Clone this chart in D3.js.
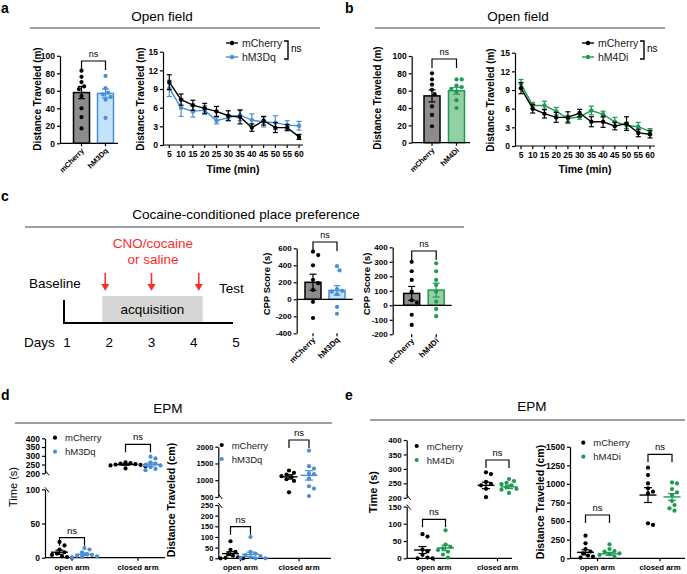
<!DOCTYPE html>
<html><head><meta charset="utf-8">
<script src="https://cdn.jsdelivr.net/npm/d3@7"></script>
<style>body{margin:0;background:#fff}svg{display:block;font-family:"Liberation Sans",Arial,sans-serif}</style>
</head><body>
<script>
// ---------------- DATA ----------------
const groupsM3 = ["mCherry", "hM3Dq"];
const groupsM4 = ["mCherry", "hM4Di"];
const timeMin = [5, 10, 15, 20, 25, 30, 35, 40, 45, 50, 55, 60];
const ofTicksBar = [0, 20, 40, 60, 80, 100];
const ofTicksLine = [0, 3, 6, 9, 12, 15];

// panel a
const ofA_means = [58, 57];
const ofA_sems = [7, 5];
const ofA_mch = [83, 76, 70, 65, 62, 54, 40, 30, 17];
const ofA_hm3 = [77, 63, 58, 56, 53, 50, 29];
const lineA_mch = [10.1, 7.3, 6.4, 5.9, 5.4, 4.7, 4.5, 2.8, 3.9, 2.8, 2.8, 1.3];
const lineA_mch_err = [1.2, 0.9, 0.8, 0.8, 0.8, 0.8, 1.1, 0.6, 0.7, 0.8, 0.5, 0.4];
const lineA_hm3 = [9.1, 6.0, 5.4, 5.6, 3.9, 4.4, 4.8, 4.0, 3.7, 3.6, 3.2, 3.1];
const lineA_hm3_err = [1.3, 1.4, 0.9, 0.7, 0.5, 0.4, 0.9, 1.0, 0.8, 1.1, 0.7, 0.7];

// panel b
const ofB_means = [54, 60];
const ofB_sems = [7, 4];
const ofB_mch = [80, 73, 67, 61, 56, 42, 32, 19];
const ofB_hm4 = [73, 73, 66, 64, 62, 59, 49, 40];
const lineB_mch = [9.3, 6.0, 5.2, 4.6, 4.6, 5.3, 3.9, 3.9, 3.2, 3.6, 2.1, 1.9];
const lineB_mch_err = [0.9, 0.7, 0.7, 0.8, 0.9, 0.6, 0.8, 0.9, 0.6, 1.1, 0.6, 0.6];
const lineB_hm4 = [10.0, 6.5, 6.5, 5.6, 4.4, 4.7, 5.7, 5.1, 3.9, 3.3, 3.1, 2.3];
const lineB_hm4_err = [0.7, 0.5, 0.7, 0.6, 0.5, 0.4, 0.7, 0.5, 0.7, 0.5, 0.7, 0.5];

// panel c
const days = [1, 2, 3, 4, 5];
const cppTicksA = [-400, -200, 0, 200, 400, 600];
const cppA_means = [200, 105];
const cppA_sems = [95, 55];
const cppA_mch = [560, 520, 400, 230, 190, 110, -30, -220];
const cppA_hm3 = [390, 340, 120, 100, 90, 60, -90, -170];
const cppTicksB = [-200, -100, 0, 100, 200, 300, 400];
const cppB_means = [82, 105];
const cppB_sems = [48, 48];
const cppB_mch = [300, 235, 175, 95, 35, 20, -65, -135];
const cppB_hm4 = [290, 235, 175, 140, 95, 25, -25, -75];

// panel d / e
const armCats = ["open arm", "closed arm"];
const dTimeTicksLow = [0, 50, 100];
const dTimeTicksHigh = [200, 250, 300, 350, 400];
const dTime_open_mch = [23, 18, 12, 8, 6, 4, 2, 1, 0];
const dTime_open_hm3 = [14, 12, 8, 5, 4, 3, 2, 1, 0];
const dTime_closed_mch = [262, 258, 255, 252, 250, 248, 245, 240, 228];
const dTime_closed_hm3 = [295, 285, 262, 255, 248, 245, 235, 225, 218];
const dTime_means = [[8, 5], [250, 250]];
const dTime_sems = [[3, 2], [4, 9]];

const dDistTicksLow = [0, 50, 100, 150, 200, 250];
const dDistTicksHigh = [500, 1000, 1500, 2000];
const dDist_open_mch = [80, 40, 30, 20, 12, 5, 2, 0, 0];
const dDist_open_hm3 = [100, 30, 22, 15, 10, 5, 2, 0, 0];
const dDist_closed_mch = [1290, 1220, 1170, 1120, 1090, 1030, 980, 640];
const dDist_closed_hm3 = [1880, 1420, 1350, 1200, 1180, 1050, 820, 750, 530];
const dDist_means = [[22, 18], [1100, 1145]];
const dDist_sems = [[9, 11], [65, 140]];

const eTimeTicksLow = [0, 50, 100, 150];
const eTimeTicksHigh = [200, 250, 300, 350, 400];
const eTime_open_mch = [70, 63, 25, 20, 10, 2, 0, 0];
const eTime_open_hm4 = [81, 40, 33, 29, 24, 19, 11, 2];
const eTime_closed_mch = [288, 282, 255, 248, 243, 231, 202];
const eTime_closed_hm4 = [265, 258, 252, 247, 243, 236, 231, 228, 217];
const eTime_means = [[24, 30], [243, 238]];
const eTime_sems = [[10, 8], [11, 6]];

const eDistTicks = [0, 250, 500, 750, 1000, 1250, 1500];
const eDist_open_mch = [304, 201, 125, 90, 67, 36, 22, 9];
const eDist_open_hm4 = [188, 125, 98, 90, 67, 54, 45, 22];
const eDist_closed_mch = [1218, 1119, 1007, 940, 895, 873, 470, 448];
const eDist_closed_hm4 = [1020, 1007, 931, 886, 850, 770, 716, 672, 640];
const eDist_means = [[80, 60], [850, 825]];
const eDist_sems = [[35, 20], [100, 45]];

// ---------------- STYLE ----------------
const COL = {
  black: "#000", blue: "#4a8fd6", blueFill: "#c4e2f8", green: "#1e9a52",
  greenFill: "#93cfa5", grayFill: "#8c8c8c", red: "#ff2a2a", header: "#808080"
};
const W = 687, H = 574;
const svg = d3.select("body").append("svg").attr("width", W).attr("height", H);
const fmt = d => String(d);

function txt(x, y, s, o = {}) {
  return svg.append("text").attr("x", x).attr("y", y).text(s)
    .attr("font-size", o.size || 10).attr("font-weight", o.bold ? "bold" : "normal")
    .attr("text-anchor", o.anchor || "start").attr("fill", o.fill || "#000");
}
function vtxt(x, cy, s, o = {}) {
  return svg.append("text").attr("transform", `translate(${x},${cy}) rotate(-90)`)
    .attr("text-anchor", "middle").attr("dy", "0.35em").text(s)
    .attr("font-size", o.size || 10).attr("font-weight", o.bold === false ? "normal" : "bold");
}
function header(x1, x2, y, tx, ty, s) {
  svg.append("line").attr("x1", x1).attr("x2", x2).attr("y1", y).attr("y2", y)
    .attr("stroke", COL.header).attr("stroke-width", 1.5);
  txt(tx, ty, s, { size: 13.5, anchor: "middle" });
}
function styleAxis(g, fs) {
  g.selectAll("path,line").attr("stroke", "#000").attr("stroke-width", 1.2);
  g.selectAll("text").attr("font-size", fs || 8).attr("font-weight", "bold")
    .attr("font-family", '"Liberation Sans",Arial,sans-serif').attr("fill", "#000");
}
function swarm(vals, yf, r, step) {
  const pts = vals.map(v => ({ v, py: yf(v) })).sort((a, b) => a.py - b.py);
  const placed = [];
  pts.forEach(p => {
    for (let k = 0; k < 30; k++) {
      const dx = k === 0 ? 0 : (k % 2 ? 1 : -1) * Math.ceil(k / 2) * step;
      if (placed.every(q => (q.dx - dx) ** 2 + (q.py - p.py) ** 2 >= (2 * r + 0.2) ** 2)) {
        p.dx = dx; placed.push(p); break;
      }
    }
  });
  return placed;
}
function errBar(g, x, yLo, yHi, yMid, cap, color, meanW) {
  g.append("line").attr("x1", x).attr("x2", x).attr("y1", yLo).attr("y2", yHi).attr("stroke", color).attr("stroke-width", 1.2);
  [yLo, yHi].forEach(yy => g.append("line").attr("x1", x - cap / 2).attr("x2", x + cap / 2).attr("y1", yy).attr("y2", yy).attr("stroke", color).attr("stroke-width", 1.2));
  if (meanW) g.append("line").attr("x1", x - meanW / 2).attr("x2", x + meanW / 2).attr("y1", yMid).attr("y2", yMid).attr("stroke", color).attr("stroke-width", 1.4);
}
function bracket(x1, x2, y, drop, label, fs) {
  svg.append("path").attr("d", `M${x1},${y + drop}V${y}H${x2}V${y + drop}`)
    .attr("fill", "none").attr("stroke", "#000").attr("stroke-width", 1.2);
  txt((x1 + x2) / 2, y - 4, label, { size: fs || 9, anchor: "middle" });
}

// ---------------- BAR + DOT CHART ----------------
function barChart(o) {
  const g = svg.append("g");
  const y = d3.scaleLinear().domain(o.domain).range([o.yBottom, o.yTop]);
  const x = d3.scalePoint().domain(o.cats).range(o.catRange);
  const ax = g.append("g").attr("transform", `translate(${o.axisX},0)`)
    .call(d3.axisLeft(y).tickValues(o.ticks).tickFormat(fmt).tickSize(3).tickSizeOuter(0).tickPadding(2));
  styleAxis(ax, o.tickFs);
  o.cats.forEach((c, i) => {
    const cx = x(c), m = o.means[i];
    const y0 = y(0);
    g.append("rect").attr("x", cx - o.barW / 2).attr("width", o.barW)
      .attr("y", Math.min(y(m), y0)).attr("height", Math.abs(y0 - y(m)))
      .attr("fill", o.fills[i]).attr("stroke", o.strokes[i]).attr("stroke-width", 1.5);
  });
  g.append("line").attr("x1", o.axisX).attr("x2", o.xEnd).attr("y1", y(0)).attr("y2", y(0)).attr("stroke", "#000").attr("stroke-width", 1.2);
  o.cats.forEach((c, i) => {
    const cx = x(c);
    g.append("line").attr("x1", cx).attr("x2", cx).attr("y1", o.yBottom).attr("y2", o.yBottom + 3).attr("stroke", "#000").attr("stroke-width", 1.2);
    const sw = swarm(o.points[i], y, 2.1, 2.6);
    sw.forEach(p => g.append("circle").attr("cx", cx + p.dx).attr("cy", p.py).attr("r", 2.1).attr("fill", o.dotColors[i]));
    errBar(g, cx, y(o.means[i] - o.sems[i]), y(o.means[i] + o.sems[i]), y(o.means[i]), 7, o.strokes[i], 0);
    g.append("text").attr("transform", `translate(${cx + 3},${o.yBottom + o.labelDy}) rotate(-45)`)
      .attr("text-anchor", "end").text(c).attr("font-size", o.labelFs).attr("font-weight", "bold");
  });
  if (o.ytitle) vtxt(o.ytitle[0], o.ytitle[1], o.ytitle[2], { size: o.ytitle[3] });
  bracket(x(o.cats[0]), x(o.cats[1]), o.nsY, o.nsDrop, "ns", 9);
}

// ---------------- LINE CHART ----------------
function lineChart(o) {
  const g = svg.append("g");
  const x = d3.scaleLinear().domain([timeMin[0], timeMin[timeMin.length - 1]]).range(o.xRange);
  const y = d3.scaleLinear().domain([0, 15]).range([o.yBottom, o.yTop]);
  const ay = g.append("g").attr("transform", `translate(${o.axisX},0)`)
    .call(d3.axisLeft(y).tickValues(ofTicksLine).tickFormat(fmt).tickSize(3).tickSizeOuter(0).tickPadding(2));
  styleAxis(ay, 8.5);
  g.append("line").attr("x1", o.axisX).attr("x2", o.xEnd).attr("y1", o.yBottom).attr("y2", o.yBottom).attr("stroke", "#000").attr("stroke-width", 1.2);
  timeMin.forEach(t => {
    g.append("line").attr("x1", x(t)).attr("x2", x(t)).attr("y1", o.yBottom).attr("y2", o.yBottom + 3).attr("stroke", "#000").attr("stroke-width", 1.2);
    g.append("text").attr("x", x(t)).attr("y", o.yBottom + 12).attr("text-anchor", "middle").text(t).attr("font-size", 8.5).attr("font-weight", "bold");
  });
  o.series.forEach(s => {
    const line = d3.line().x((d, i) => x(timeMin[i])).y(d => y(d));
    s.vals.forEach((v, i) => errBar(g, x(timeMin[i]), y(v - s.err[i]), y(v + s.err[i]), 0, 5, s.color, 0));
    g.append("path").attr("d", line(s.vals)).attr("fill", "none").attr("stroke", s.color).attr("stroke-width", 1.4);
    s.vals.forEach((v, i) => g.append("circle").attr("cx", x(timeMin[i])).attr("cy", y(v)).attr("r", 2.2).attr("fill", s.color));
  });
  o.series.slice().reverse().forEach((s, k) => {
    const ly = o.legY + k * 14;
    g.append("line").attr("x1", o.legX).attr("x2", o.legX + 12).attr("y1", ly).attr("y2", ly).attr("stroke", s.color).attr("stroke-width", 1.4);
    g.append("circle").attr("cx", o.legX + 6).attr("cy", ly).attr("r", 2.2).attr("fill", s.color);
    g.append("text").attr("x", o.legX + 16).attr("y", ly + 4).text(s.name).attr("font-size", 10.5).attr("fill", "#222");
  });
  const bx = o.legX + 62;
  g.append("path").attr("d", `M${bx - 4},${o.legY - 2}H${bx}V${o.legY + 16}H${bx - 4}`).attr("fill", "none").attr("stroke", "#000").attr("stroke-width", 1.4);
  txt(bx + 3, o.legY + 9, "ns", { size: 10 });
  vtxt(o.ytitle[0], o.ytitle[1], "Distance Traveled (m)", { size: 10 });
  txt(o.tX, o.tY, "Time (min)", { size: 10.5, bold: true, anchor: "middle" });
}

// ---------------- DOT CHART (EPM) ----------------
function dotChart(o) {
  const g = svg.append("g");
  const segs = o.segments.map(s => ({ ...s, sc: d3.scaleLinear().domain(s.domain).range(s.range) }));
  const yf = v => {
    const s = segs.find(s => v <= s.domain[1] + 1e-9) || segs[segs.length - 1];
    return s.sc(v);
  };
  segs.forEach((s, k) => {
    const ax = g.append("g").attr("transform", `translate(${o.axisX},0)`)
      .call(d3.axisLeft(s.sc).tickValues(s.ticks).tickFormat(fmt).tickSize(3).tickSizeOuter(0).tickPadding(2));
    styleAxis(ax, o.tickFs || 8.5);
    if (segs.length > 1) {
      if (k === 0) g.append("line").attr("x1", o.axisX).attr("x2", o.axisX + 4).attr("y1", s.range[1] - 2).attr("y2", s.range[1] + 3).attr("stroke", "#000").attr("stroke-width", 1);
      else g.append("line").attr("x1", o.axisX).attr("x2", o.axisX + 4).attr("y1", s.range[0] - 3).attr("y2", s.range[0] + 2).attr("stroke", "#000").attr("stroke-width", 1);
    }
  });
  const yb = segs[0].range[0];
  const x = d3.scalePoint().domain(armCats).range(o.catRange);
  const inner = d3.scalePoint().domain(o.groups).range([-o.gOff, o.gOff]);
  g.append("line").attr("x1", o.axisX).attr("x2", o.xEnd).attr("y1", yb).attr("y2", yb).attr("stroke", "#000").attr("stroke-width", 1.2);
  armCats.forEach((c, ci) => {
    g.append("line").attr("x1", x(c)).attr("x2", x(c)).attr("y1", yb).attr("y2", yb + 3).attr("stroke", "#000").attr("stroke-width", 1.2);
    g.append("text").attr("x", x(c)).attr("y", yb + 12).attr("text-anchor", "middle").text(c).attr("font-size", 7.8).attr("font-weight", "bold");
    o.groups.forEach((gr, gi) => {
      const cx = x(c) + inner(gr);
      const col = o.colors[gi];
      const sw = swarm(o.data[ci][gi], yf, 2.1, 2.5);
      sw.forEach(p => g.append("circle").attr("cx", cx + p.dx).attr("cy", p.py).attr("r", 2.1).attr("fill", col));
      const m = o.means[ci][gi], s = o.sems[ci][gi];
      errBar(g, cx, yf(m - s), yf(m + s), yf(m), 8, col, 17);
    });
    bracket(x(c) + inner(o.groups[0]), x(c) + inner(o.groups[1]), o.brackets[ci], 8, "ns", 9.5);
  });
  o.groups.forEach((gr, gi) => {
    const ly = o.legY + gi * 14;
    g.append("circle").attr("cx", o.legX).attr("cy", ly).attr("r", 2.1).attr("fill", o.colors[gi]);
    g.append("text").attr("x", o.legX + 10).attr("y", ly + 3.5).text(gr).attr("font-size", 9.5).attr("fill", "#222");
  });
  vtxt(o.ytitle[0], o.ytitle[1], o.ytitle[2], { size: o.ytitle[3], bold: o.ytitle[4] });
}

// ================= PANEL A =================
txt(1, 13, "a", { size: 14, bold: true });
header(30, 320, 28, 162, 21, "Open field");
barChart({
  axisX: 60, xEnd: 118, yTop: 55.8, yBottom: 143.3, domain: [0, 100], ticks: ofTicksBar,
  cats: groupsM3, catRange: [81.5, 105.5], barW: 16, means: ofA_means, sems: ofA_sems,
  points: [ofA_mch, ofA_hm3], fills: [COL.grayFill, COL.blueFill], strokes: [COL.black, COL.blue],
  dotColors: [COL.black, COL.blue], ytitle: [37, 99, "Distance Traveled (m)", 10],
  nsY: 61, nsDrop: 9, labelDy: 8, labelFs: 7.5, tickFs: 8.5
});
lineChart({
  axisX: 163, xEnd: 303, xRange: [169.3, 299], yTop: 51.7, yBottom: 145,
  series: [
    { name: "hM3Dq", vals: lineA_hm3, err: lineA_hm3_err, color: COL.blue },
    { name: "mCherry", vals: lineA_mch, err: lineA_mch_err, color: COL.black }
  ],
  legX: 226, legY: 43, ytitle: [140, 99], tX: 233, tY: 173
});

// ================= PANEL B =================
txt(345, 13, "b", { size: 14, bold: true });
header(375, 665, 28, 518, 21, "Open field");
barChart({
  axisX: 411.7, xEnd: 470, yTop: 56, yBottom: 142.7, domain: [0, 100], ticks: ofTicksBar,
  cats: groupsM4, catRange: [432, 456.5], barW: 16, means: ofB_means, sems: ofB_sems,
  points: [ofB_mch, ofB_hm4], fills: [COL.grayFill, COL.greenFill], strokes: [COL.black, COL.green],
  dotColors: [COL.black, COL.green], ytitle: [377, 98, "Distance Traveled (m)", 10],
  nsY: 59, nsDrop: 9, labelDy: 8, labelFs: 7.5, tickFs: 8.5
});
lineChart({
  axisX: 515, xEnd: 655, xRange: [521, 650], yTop: 52.7, yBottom: 146,
  series: [
    { name: "hM4Di", vals: lineB_hm4, err: lineB_hm4_err, color: COL.green },
    { name: "mCherry", vals: lineB_mch, err: lineB_mch_err, color: COL.black }
  ],
  legX: 582, legY: 43, ytitle: [490, 100], tX: 585, tY: 173
});

// ================= PANEL C =================
txt(1, 201, "c", { size: 14, bold: true });
header(25, 464, 227, 246, 219, "Cocaine-conditioned place preference");
{
  const dx = d3.scalePoint().domain(days).range([67, 236]);
  const g = svg.append("g");
  g.append("rect").attr("x", dx(2) - 7).attr("y", 296).attr("width", dx(4) - dx(2) + 16).attr("height", 26).attr("fill", "#d6d6d6");
  txt((dx(2) + dx(4)) / 2 + 1, 314, "acquisition", { size: 13.5, anchor: "middle" });
  g.append("path").attr("d", `M${dx(1) - 3},300V323H${dx(5) - 3}`).attr("fill", "none").attr("stroke", "#000").attr("stroke-width", 2);
  txt(24, 347, "Days", { size: 13.5 });
  days.forEach(d => txt(dx(d), 347, d, { size: 13.5, anchor: "middle" }));
  txt(29, 288, "Baseline", { size: 13.5 });
  txt(219, 293, "Test", { size: 13.5 });
  txt(153, 248, "CNO/cocaine", { size: 13.5, anchor: "middle", fill: COL.red });
  txt(153, 264, "or saline", { size: 13.5, anchor: "middle", fill: COL.red });
  [2, 3, 4].forEach(d => {
    const ax = dx(d) + (d === 2 ? -4 : d === 4 ? 5 : 0);
    g.append("line").attr("x1", ax).attr("x2", ax).attr("y1", 273).attr("y2", 287).attr("stroke", COL.red).attr("stroke-width", 1.6);
    g.append("path").attr("d", `M${ax - 4},284L${ax},291L${ax + 4},284Z`).attr("fill", COL.red);
  });
}
barChart({
  axisX: 296.7, xEnd: 352.7, yTop: 248.3, yBottom: 333.3, domain: [-400, 600], ticks: cppTicksA,
  cats: groupsM3, catRange: [313, 337], barW: 16, means: cppA_means, sems: cppA_sems,
  points: [cppA_mch, cppA_hm3], fills: [COL.grayFill, COL.blueFill], strokes: [COL.black, COL.blue],
  dotColors: [COL.black, COL.blue], ytitle: [267, 284, "CPP Score (s)", 9.5],
  nsY: 242, nsDrop: 9, labelDy: 7, labelFs: 8, tickFs: 8
});
barChart({
  axisX: 392.7, xEnd: 451.7, yTop: 247.3, yBottom: 334.3, domain: [-200, 400], ticks: cppTicksB,
  cats: groupsM4, catRange: [411.7, 436.2], barW: 16, means: cppB_means, sems: cppB_sems,
  points: [cppB_mch, cppB_hm4], fills: [COL.grayFill, COL.greenFill], strokes: [COL.black, COL.green],
  dotColors: [COL.black, COL.green], ytitle: [367, 284, "CPP Score (s)", 9.5],
  nsY: 251, nsDrop: 9, labelDy: 7, labelFs: 8, tickFs: 8
});

// ================= PANEL D =================
txt(1, 400, "d", { size: 14, bold: true });
header(15, 332, 423, 168, 413, "EPM");
dotChart({
  axisX: 45, xEnd: 165, catRange: [72, 138], gOff: 12.5, groups: groupsM3, colors: [COL.black, COL.blue],
  segments: [{ domain: [0, 100], range: [557.7, 489.3], ticks: dTimeTicksLow }, { domain: [200, 400], range: [473.3, 438.3], ticks: dTimeTicksHigh }],
  data: [[dTime_open_mch, dTime_open_hm3], [dTime_closed_mch, dTime_closed_hm3]],
  means: dTime_means, sems: dTime_sems, brackets: [537.7, 444.3],
  legX: 55, legY: 437.7, ytitle: [13, 487, "Time (s)", 11, false]
});
dotChart({
  axisX: 218.3, xEnd: 331, catRange: [240.5, 299], gOff: 10, groups: groupsM3, colors: [COL.black, COL.blue],
  segments: [{ domain: [0, 250], range: [558.3, 505], ticks: dDistTicksLow }, { domain: [500, 2000], range: [497, 446.7], ticks: dDistTicksHigh }],
  data: [[dDist_open_mch, dDist_open_hm3], [dDist_closed_mch, dDist_closed_hm3]],
  means: dDist_means, sems: dDist_sems, brackets: [526.7, 440],
  legX: 221.7, legY: 445, tickFs: 7.5, ytitle: [171.7, 500, "Distance Traveled (cm)", 10.5, true]
});

// ================= PANEL E =================
txt(345, 400, "e", { size: 14, bold: true });
header(370, 685, 420, 532, 411, "EPM");
dotChart({
  axisX: 406.7, xEnd: 512, catRange: [434, 497.5], gOff: 11.5, groups: groupsM4, colors: [COL.black, COL.green],
  segments: [{ domain: [0, 150], range: [558.3, 506.5], ticks: eTimeTicksLow }, { domain: [200, 400], range: [497.8, 440], ticks: eTimeTicksHigh }],
  data: [[eTime_open_mch, eTime_open_hm4], [eTime_closed_mch, eTime_closed_hm4]],
  means: eTime_means, sems: eTime_sems, brackets: [519.3, 460],
  legX: 416.7, legY: 446, tickFs: 8, ytitle: [373, 492, "Time (s)", 11, true]
});
dotChart({
  axisX: 570, xEnd: 685, catRange: [597.5, 660], gOff: 12, groups: groupsM4, colors: [COL.black, COL.green],
  segments: [{ domain: [0, 1500], range: [558.3, 446.7], ticks: eDistTicks }],
  data: [[eDist_open_mch, eDist_open_hm4], [eDist_closed_mch, eDist_closed_hm4]],
  means: eDist_means, sems: eDist_sems, brackets: [515, 454.3],
  legX: 583.3, legY: 442.7, ytitle: [540, 502, "Distance Traveled (cm)", 10.5, true]
});
</script>
</body></html>
